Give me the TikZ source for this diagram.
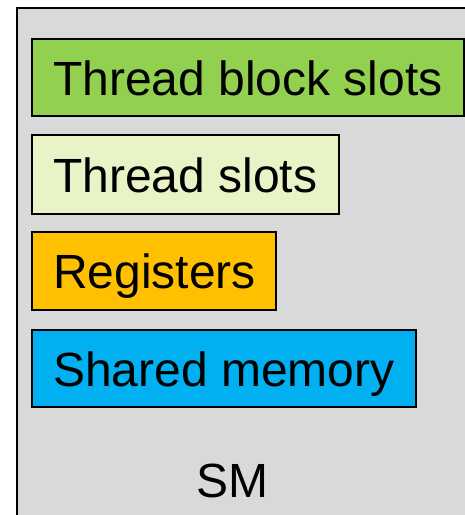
\documentclass[tikz,border=0pt]{standalone}
\usepackage{fontspec}
\setmainfont{Liberation Sans}
\definecolor{smgray}{HTML}{D9D9D9}
\definecolor{blockgreen}{HTML}{92D050}
\definecolor{threadgreen}{HTML}{E8F4C6}
\definecolor{regorange}{HTML}{FFC000}
\definecolor{shmblue}{HTML}{00B0F0}
\begin{document}
\begin{tikzpicture}[x=1pt, y=-1pt,
  smframe/.style={draw=black, line width=2pt, fill=smgray},
  slotbox/.style={draw=black, line width=2pt, rectangle, anchor=north west,
    inner sep=0pt, outer sep=0pt},
  slotshadow/.style={fill=black!35, draw=none, rectangle, anchor=north west,
    inner sep=0pt, outer sep=0pt},
  slotlabel/.style={anchor=base west, inner sep=0pt, font=\fontsize{48}{57}\selectfont},
]
  \useasboundingbox (0,0) rectangle (465,515);
  \clip (0,0) rectangle (465,515);

  % streaming multiprocessor frame (runs past the right and bottom edges)
  \draw[smframe] (17,8) rectangle (480,530);

  % soft drop shadows under the resource boxes
  \node[slotshadow, minimum width=432pt, minimum height=77pt] at (33.2,40.2) {};
  \node[slotshadow, minimum width=307pt, minimum height=79pt] at (33.2,136.2) {};
  \node[slotshadow, minimum width=244pt, minimum height=78pt] at (33.2,233.2) {};
  \node[slotshadow, minimum width=384pt, minimum height=77pt] at (33.2,331.2) {};

  % resource boxes
  \node[slotbox, fill=blockgreen,  minimum width=432pt, minimum height=77pt] (tbs) at (32,39) {};
  \node[slotbox, fill=threadgreen, minimum width=307pt, minimum height=79pt] (ts)  at (32,135) {};
  \node[slotbox, fill=regorange,   minimum width=244pt, minimum height=78pt] (reg) at (32,232) {};
  \node[slotbox, fill=shmblue,     minimum width=384pt, minimum height=77pt] (shm) at (32,330) {};

  % labels
  \node[slotlabel] (tbslabel) at (53,95) {Thread block slots};
  \node[slotlabel] (tslabel)  at (53,192) {Thread slots};
  \node[slotlabel] (reglabel) at (53,288) {Registers};
  \node[slotlabel] (shmlabel) at (53,386) {Shared memory};

  \node[slotlabel] (smlabel) at (196,497) {SM};
\end{tikzpicture}
\end{document}
